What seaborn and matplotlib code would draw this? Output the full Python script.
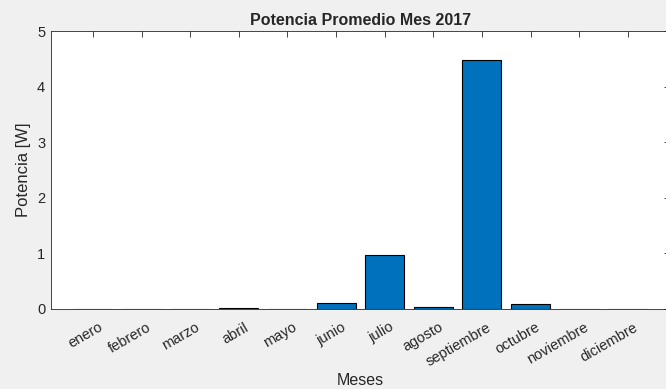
import matplotlib
matplotlib.use("Agg")
import matplotlib.pyplot as plt
import matplotlib.transforms as mtransforms
import seaborn as sns
import pandas as pd

meses = ["enero", "febrero", "marzo", "abril", "mayo", "junio", "julio",
         "agosto", "septiembre", "octubre", "noviembre", "diciembre"]
potencia = [0.0, 0.0, 0.0, 0.01, 0.002, 0.11, 0.97, 0.03, 4.48, 0.09, 0.0, 0.0]
yticks = [0, 1, 2, 3, 4, 5]

sns.set_theme(style="white")
plt.rcParams["font.family"] = ["Liberation Sans", "DejaVu Sans"]

df = pd.DataFrame({"Meses": meses, "Potencia": potencia})

fig = plt.figure(figsize=(6.66, 3.89), dpi=100, facecolor="#f0f0f0")
ax = fig.add_axes([0.0761, 0.2057, 0.930, 0.7146])
ax.set_facecolor("white")

sns.barplot(data=df, x="Meses", y="Potencia", color="#0072BD", saturation=1,
            width=0.8, edgecolor="black", linewidth=0.8, ax=ax)

ax.set_xlim(-0.87, 11.87)
ax.set_ylim(0, 5)
ax.set_yticks(yticks)
ax.set_yticklabels([str(v) for v in yticks], fontsize=10.5, color="#262626")
ax.set_xticks(range(len(meses)))
ax.set_xticklabels(meses, rotation=30, ha="right", rotation_mode="anchor",
                   fontsize=10.5, color="#262626")

ax.set_axisbelow(False)
ax.tick_params(axis="both", direction="in", length=4.5, width=0.6,
               color="#262626", top=True, right=True, pad=4)
ax.tick_params(axis="x", pad=8)
for s in ax.spines.values():
    s.set_visible(True)
    s.set_color("#262626")
    s.set_linewidth(0.6)

# shift the rotated month labels a little to the right of their ticks
shift = mtransforms.ScaledTranslation(5 / 100, 0, fig.dpi_scale_trans)
for lbl in ax.xaxis.get_majorticklabels():
    lbl.set_transform(lbl.get_transform() + shift)

ax.set_title("Potencia Promedio Mes 2017", fontsize=11.5, fontweight="bold", pad=4)
ax.set_xlabel("Meses", fontsize=11.5, color="#262626", labelpad=3)
ax.set_ylabel("Potencia [W]", fontsize=12, color="#262626", labelpad=4)

fig.savefig("out.png", dpi=100, facecolor=fig.get_facecolor())
